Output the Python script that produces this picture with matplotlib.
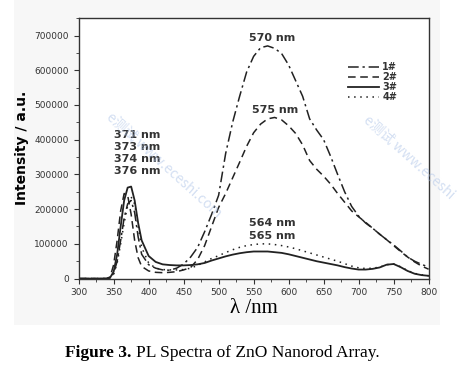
import numpy as np
import matplotlib as mpl
mpl.use('Agg')
import matplotlib.pyplot as plt
from matplotlib.patches import Rectangle
from matplotlib.ticker import MultipleLocator

# wavelength grid (nm) shared by all four spectra
wl = [300, 340, 345, 350, 355, 360, 365, 370, 375, 380, 385, 390, 400, 410,
      420, 430, 440, 450, 460, 470, 480, 490, 500, 510, 520, 530, 540, 550,
      560, 570, 580, 590, 600, 610, 620, 630, 640, 650, 660, 670, 680, 690,
      700, 710, 720, 730, 740, 750, 760, 770, 780, 790, 800]

s1 = [0, 0, 2000, 15000, 50000, 110000, 175000, 215000, 225000, 190000, 120000,
      70000, 40000, 30000, 25000, 24000, 30000, 42000, 62000, 90000, 135000,
      185000, 240000, 360000, 450000, 525000, 595000, 640000, 665000, 670000,
      663000, 648000, 615000, 570000, 525000, 460000, 428000, 400000, 352000,
      300000, 250000, 208000, 180000, 160000, 145000, 128000, 112000, 97000,
      80000, 62000, 50000, 41000, 33000]
s2 = [0, 0, 5000, 40000, 110000, 195000, 245000, 240000, 185000, 110000, 60000,
      35000, 22000, 18000, 17000, 18000, 20000, 25000, 32000, 55000, 95000,
      150000, 205000, 245000, 290000, 335000, 381000, 420000, 445000, 460000,
      464000, 457000, 440000, 418000, 385000, 340000, 315000, 295000, 272000,
      245000, 220000, 195000, 178000, 162000, 145000, 128000, 112000, 95000,
      78000, 62000, 48000, 36000, 27000]
s3 = [0, 0, 3000, 20000, 70000, 150000, 225000, 262000, 265000, 225000, 160000,
      110000, 65000, 48000, 41000, 39000, 38000, 38000, 39000, 41000, 45000,
      52000, 58000, 64000, 69000, 73000, 76000, 78000, 78000, 78000, 76000,
      74000, 70000, 65000, 60000, 55000, 50000, 46000, 42000, 38000, 33000,
      29000, 26000, 26000, 28000, 32000, 40000, 42000, 33000, 22000, 14000,
      10000, 8000]
s4 = [0, 0, 2000, 12000, 45000, 100000, 160000, 210000, 235000, 215000, 150000,
      90000, 45000, 30000, 26000, 25000, 25000, 26000, 30000, 38000, 48000,
      58000, 66000, 75000, 83000, 90000, 95000, 98000, 100000, 100000, 98000,
      95000, 91000, 86000, 80000, 74000, 68000, 62000, 56000, 50000, 43000,
      36000, 31000, 29000, 30000, 33000, 40000, 42000, 34000, 23000, 15000,
      11000, 8000]

labels = ["1#", "2#", "3#", "4#"]
peak_uv = ["371 nm", "373 nm", "374 nm", "376 nm"]
peak_vis = ["570 nm", "575 nm", "564 nm", "565 nm"]

ink = "#222222"

fig = plt.figure(figsize=(4.71, 3.78), dpi=100)
fig.patches.append(Rectangle((0.03, 0.14), 0.905, 0.86, transform=fig.transFigure,
                             facecolor="#f7f7f7", edgecolor="none", zorder=-10))
ax = fig.add_axes([0.167, 0.263, 0.743, 0.689])
ax.set_facecolor("white")

ax.plot(wl, s1, color=ink, lw=1.1, dashes=(7, 2.5, 1.5, 2.5), label=labels[0])
ax.plot(wl, s2, color=ink, lw=1.1, dashes=(5, 3), label=labels[1])
ax.plot(wl, s3, color=ink, lw=1.3, label=labels[2])
ax.plot(wl, s4, color=ink, lw=1.1, dashes=(1, 3), label=labels[3])

ax.set_xlim(300, 800)
ax.set_ylim(0, 750000)
ax.xaxis.set_major_locator(MultipleLocator(50))
ax.xaxis.set_minor_locator(MultipleLocator(25))
ax.yaxis.set_major_locator(MultipleLocator(100000))
ax.yaxis.set_minor_locator(MultipleLocator(50000))
ax.tick_params(which="both", direction="out", top=False, right=False,
               labelsize=6.5, labelcolor="#333333", color="#333333")
ax.tick_params(which="major", length=3.5)
ax.tick_params(which="minor", length=2)
for sp in ax.spines.values():
    sp.set_color("#333333")
    sp.set_linewidth(1.0)

ax.set_ylabel("Intensity / a.u.", fontsize=10, fontweight="bold", labelpad=4)
ax.set_xlabel("λ /nm", fontsize=15, family="Liberation Serif", labelpad=1)

bold = dict(fontsize=8, fontweight="bold", color="#333333", ha="center")
for i, t in enumerate(peak_uv):
    ax.text(384, 405000 - i * 35000, t, **bold)
ax.text(577, 685000, peak_vis[0], **bold)
ax.text(580, 478000, peak_vis[1], **bold)
ax.text(577, 150000, peak_vis[2], **bold)
ax.text(577, 113000, peak_vis[3], **bold)

leg = ax.legend(loc="upper right", bbox_to_anchor=(0.935, 0.865), frameon=False,
                handlelength=3.2, handletextpad=0.3, labelspacing=0.0,
                prop=dict(size=7, weight="bold"))
for t in leg.get_texts():
    t.set_color("#333333")

# faint site watermarks
wm = dict(color="#a9c0e6", alpha=0.5, fontsize=10, rotation=-42,
          family=["Noto Sans CJK SC", "DejaVu Sans"], transform=fig.transFigure,
          ha="left", va="top", zorder=5)
fig.text(0.22, 0.71, "e测试 www.eceshi.com", **wm)
fig.text(0.765, 0.70, "e测试 www.eceshi", **wm)

# caption: bold lead-in, then plain text placed right after it
cap1 = fig.text(0.138, 0.055, "Figure 3.", fontsize=12.5, fontweight="bold",
                family="Liberation Serif")
fig.canvas.draw()
bb = cap1.get_window_extent().transformed(fig.transFigure.inverted())
fig.text(bb.x1 + 0.01, 0.055, "PL Spectra of ZnO Nanorod Array.", fontsize=12.5,
         family="Liberation Serif")

plt.savefig("out.png", dpi=100)
